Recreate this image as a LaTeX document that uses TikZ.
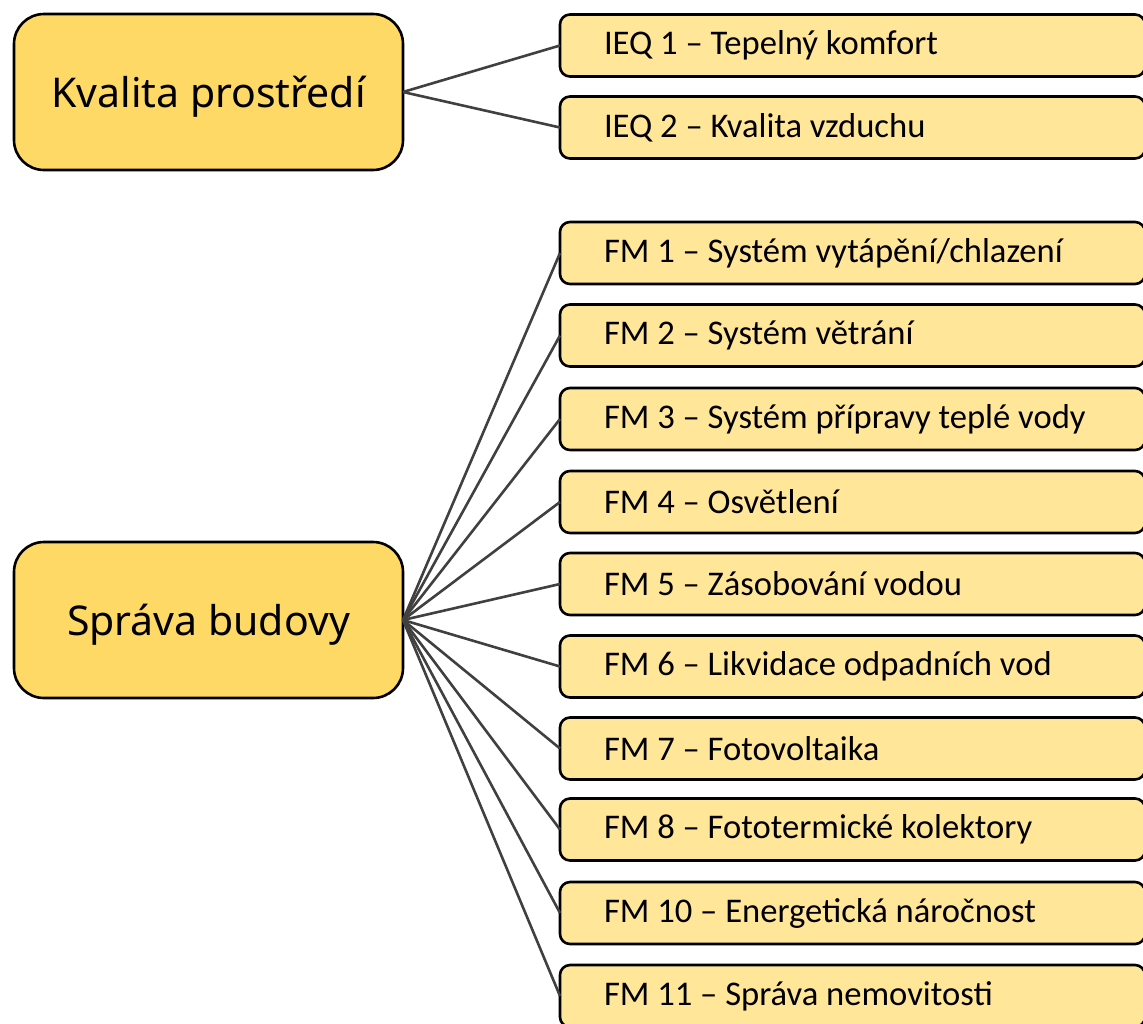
\documentclass[tikz,border=0pt]{standalone}
\usepackage{fontspec}
\setmainfont{Carlito}
\newfontfamily\mainfamily{Noto Sans}
\definecolor{goldA}{HTML}{FFD966}
\definecolor{goldB}{HTML}{FFE699}
\definecolor{conncol}{HTML}{404040}
\tikzset{
  mainbox/.style={draw=black, line width=1.3pt, fill=goldA, rounded corners=15pt,
    minimum width=194.5pt, minimum height=78pt, inner sep=0pt, outer sep=0pt,
    text height=15pt, text depth=0pt,
    font=\mainfamily\fontsize{20.5}{24}\selectfont},
  subbox/.style={draw=black, line width=1.3pt, fill=goldB, rounded corners=5pt,
    anchor=west, text width=248.5pt, align=flush left, inner xsep=22pt, inner ysep=0pt,
    minimum height=31pt, outer sep=0pt, font=\fontsize{17.3}{20}\selectfont},
  conn/.style={draw=conncol, line width=1.3pt}
}
\begin{document}
\begin{tikzpicture}[x=0.5pt, y=-0.5pt]
\useasboundingbox (0,0) rectangle (1143,1023);
\clip (0,0) rectangle (1143,1023);
\node[mainbox] (kp) at (208.5,92) {Kvalita prostředí};
\node[mainbox] (sb) at (208.5,620) {Správa budovy};
\node[subbox] (ieq1) at (560,45.5) {IEQ 1 – Tepelný komfort};
\node[subbox] (ieq2) at (560,127.5) {IEQ 2 – Kvalita vzduchu};
\node[subbox] (fm1) at (560,253) {FM 1 – Systém vytápění/chlazení};
\node[subbox] (fm2) at (560,335.5) {FM 2 – Systém větrání};
\node[subbox] (fm3) at (560,419) {FM 3 – Systém přípravy teplé vody};
\node[subbox] (fm4) at (560,502) {FM 4 – Osvětlení};
\node[subbox] (fm5) at (560,584) {FM 5 – Zásobování vodou};
\node[subbox] (fm6) at (560,666.5) {FM 6 – Likvidace odpadních vod};
\node[subbox] (fm7) at (560,748.5) {FM 7 – Fotovoltaika};
\node[subbox] (fm8) at (560,829.5) {FM 8 – Fototermické kolektory};
\node[subbox] (fm10) at (560,913) {FM 10 – Energetická náročnost};
\node[subbox] (fm11) at (560,996) {FM 11 – Správa nemovitosti};
\foreach \t in {ieq1,ieq2} \draw[conn] (kp.east) -- (\t.west);
\foreach \t in {fm1,fm2,fm3,fm4,fm5,fm6,fm7,fm8,fm10,fm11} \draw[conn] (sb.east) -- (\t.west);
\end{tikzpicture}
\end{document}
